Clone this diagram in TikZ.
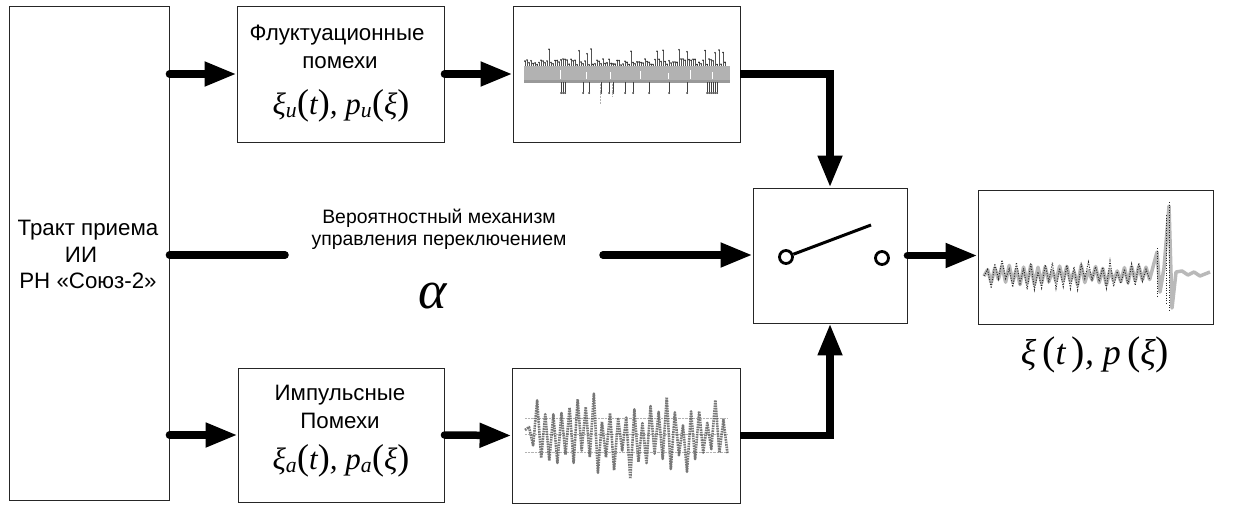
\documentclass[tikz,border=0pt]{standalone}
\usepackage{fontspec}
\setmainfont{Liberation Sans}
\newfontfamily\tms{Liberation Serif}
\usetikzlibrary{arrows.meta}
\newcommand\rpar[1]{{\upshape\fontsize{36}{36}\selectfont #1}}
\newcommand\rbig[1]{{\upshape\fontsize{40}{40}\selectfont #1}}
\begin{document}
\begin{tikzpicture}[x=1pt,y=-1pt,
  box/.style={draw=black!85, line width=0.9pt, fill=white, inner sep=0pt},
  conn/.style={line width=7.5pt, line cap=round},
  arr/.style={conn, -{Triangle[length=32pt,width=23pt]}},
  big/.style={font=\fontsize{22.3}{24}\selectfont, inner sep=0pt, anchor=base},
  small/.style={font=\fontsize{19.4}{20}\selectfont, inner sep=0pt, anchor=base},
  mth/.style={font=\tms\itshape\fontsize{31}{31}\selectfont, inner sep=0pt, anchor=base},
  contact/.style={circle, draw, line width=2.8pt, minimum size=13pt, inner sep=0pt, fill=white}]
\useasboundingbox (0,0) rectangle (1249,504);
\fill[white] (0,0) rectangle (1249,504);

% boxes
\node[box, minimum width=160pt, minimum height=494pt] (lb) at (89,253) {};
\node[box, minimum width=207pt, minimum height=136pt] (tb) at (340.5,74) {};
\node[box, minimum width=206pt, minimum height=134pt] (bb) at (341,435) {};
\node[box, minimum width=227pt, minimum height=136pt] (tp) at (626.5,74) {};
\node[box, minimum width=228pt, minimum height=135pt] (bp) at (626,435.5) {};
\node[box, minimum width=154pt, minimum height=135pt] (sw) at (830,255.5) {};
\node[box, minimum width=235pt, minimum height=134pt] (ob) at (1095.5,257) {};

% texts
\node[big] (l1) at (88,235) {Тракт приема};
\node[big] (l2) at (81,262) {ИИ};
\node[big] (l3) at (88,288) {РН «Союз-2»};
\node[big] (t1) at (337,40) {Флуктуационные};
\node[big] (t2) at (340,68) {помехи};
\node[mth] (t3) at (341,114) {ξ\textsubscript{u}\rpar(t\rpar), p\textsubscript{u}\rpar(ξ\rpar)};
\node[big] (b1) at (340,400) {Импульсные};
\node[big] (b2) at (340,428) {Помехи};
\node[mth] (b3) at (341,469) {ξ\textsubscript{a}\rpar(t\rpar), p\textsubscript{a}\rpar(ξ\rpar)};
\node[small] (m1t) at (439,223) {Вероятностный механизм};
\node[small] (m2t) at (439,245) {управления переключением};
\node[mth, font=\tms\itshape\fontsize{54}{54}\selectfont] (al) at (433,308) {α};
\node[mth, font=\tms\itshape\fontsize{36}{36}\selectfont] (ol) at (1095,364) {ξ\,\rbig(t\,\rbig), p\,\rbig(ξ\rbig)};

% switch
\node[contact] (c1) at (786,257) {};
\node[contact] (c2) at (882,258) {};
\coordinate (lv) at (871,225);
\draw[line width=3pt] (c1) -- (lv);

% connectors
\coordinate (ma) at (285,255);
\coordinate (mb) at (603,255);
\draw[arr] (lb.east |- tb.west) -- (tb.west);
\draw[arr] (lb.east |- bb.west) -- (bb.west);
\draw[conn] (lb.east |- ma) -- (ma);
\draw[arr] (mb) -- (mb -| sw.west);
\draw[arr] (tb.east) -- (tp.west);
\draw[arr] (bb.east) -- (bp.west);
\draw[arr, line cap=butt] (tp.east) -| (sw.north);
\draw[arr, line cap=butt] (bp.east) -| (sw.south);
\draw[arr] (sw.east) -- (sw.east -| ob.west);

% top plot: fluctuation noise
\pgfmathsetseed{11}
\fill[gray!60] (524,66) rectangle (730,82);
\draw[gray!80, line width=3pt] (524,81) -- (730,81);
\foreach \i in {0,...,100} {
  \pgfmathsetmacro\xx{525+2*\i}
  \pgfmathsetmacro\hh{rnd}
  \pgfmathsetmacro\top{ifthenelse(\hh>0.85, 49+rnd*5, 59+rnd*6)}
  \draw[gray!65!black, line width=0.6pt] (\xx,66) -- (\xx,\top);
  \fill[gray!35!black] (\xx,\top) circle (0.9pt);
  \pgfmathsetmacro\lo{rnd}
  \ifdim\lo pt>0.72pt
    \draw[gray!50!black, line width=0.5pt] (\xx,82) -- (\xx,92);
    \fill[gray!30!black] (\xx,93) circle (1pt);
  \fi
}
\draw[white, line width=1pt] (560,70) -- (560,79) (586,72) -- (586,79) (610,72) -- (610,79) (640,71) -- (640,79) (668,73) -- (668,79) (690,70) -- (690,79) (712,72) -- (712,79);
\draw[gray!60, line width=0.5pt, densely dotted] (600,82) -- (600,104) (612,82) -- (612,96);

% bottom plot: impulse noise
\pgfmathsetseed{5}
\draw[gray!60, line width=0.4pt, densely dotted] (525,418) -- (727,418) (525,434) -- (727,434) (525,452) -- (727,452);
\draw[gray!60!black, line width=2.6pt, dash pattern=on 1.6pt off 0.9pt, line join=round, opacity=0.75]
  (525,430) \foreach \i in {1,...,50} { -- ({525+4.05*\i}, {434 + cos(180*\i)*(5+rnd*20+26*abs(sin(\i*37))*rnd)}) };

% output plot
\pgfmathsetseed{3}
\draw[gray!55, line width=3.5pt, line join=round]
  (984,276) \foreach \i in {1,...,46} { -- ({984+3.6*\i}, {275 + cos(180*\i)*(3+rnd*7)}) }
  -- (1157,252) -- (1160,292) -- (1164,268) -- (1169,206) -- (1172,308) -- (1176,272)
  -- (1182,271) -- (1188,275) -- (1194,272) -- (1200,276) -- (1210,272);
\draw[gray!30!black, line width=1pt, dash pattern=on 1pt off 1.5pt]
  (984,276) \foreach \i in {1,...,46} { -- ({984+3.6*\i}, {275 + cos(180*\i)*(3+rnd*12)}) };
\draw[gray!30!black, line width=1pt, dash pattern=on 1pt off 1.5pt]
  (1169,202) -- (1169,312) (1166,215) -- (1166,305) (1157,248) -- (1157,296);
\end{tikzpicture}
\end{document}
